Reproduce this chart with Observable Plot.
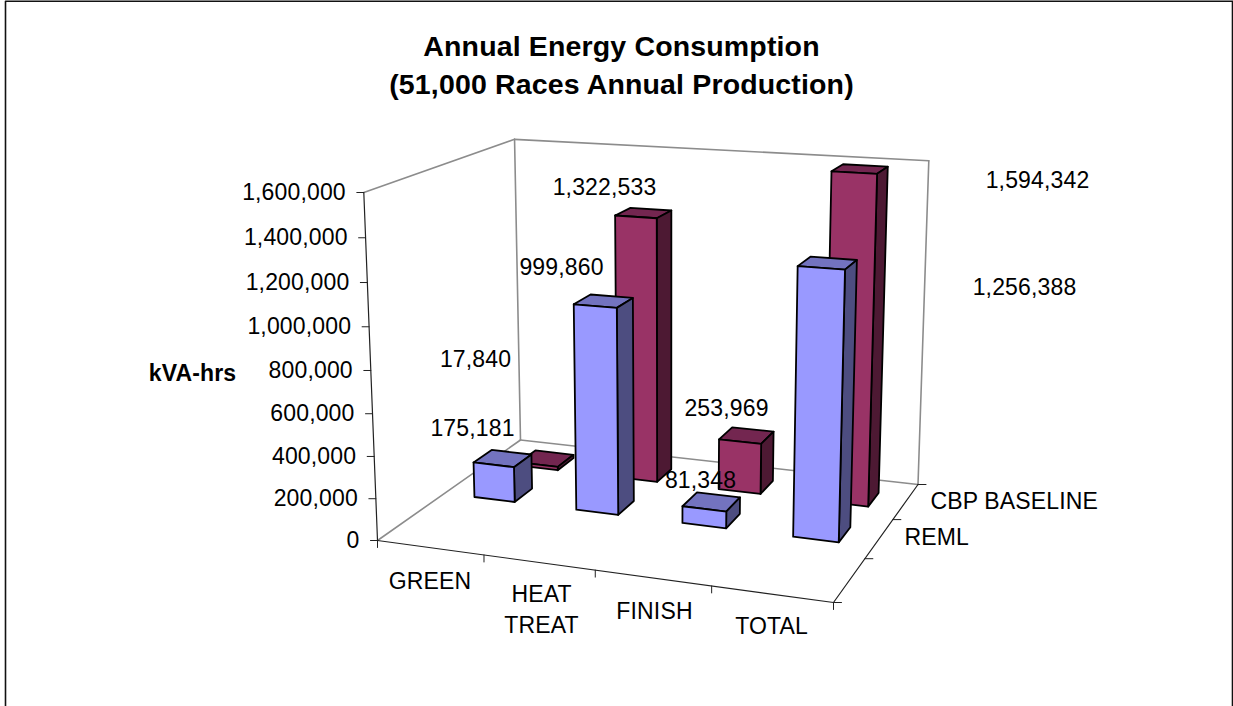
<!DOCTYPE html>
<html>
<head>
<meta charset="utf-8">
<script src="https://cdn.jsdelivr.net/npm/d3@7"></script>
<script src="https://cdn.jsdelivr.net/npm/@observablehq/plot@0.6"></script>
<style>html,body{margin:0;padding:0;background:#fff;overflow:hidden}svg{display:block}</style>
</head>
<body>
<div id="chart"></div>
<script>
// ---- chart data ----
const categories = ["GREEN", "HEAT\nTREAT", "FINISH", "TOTAL"];
const seriesNames = ["REML", "CBP BASELINE"];
const reml = [175181, 999860, 81348, 1256388];
const cbp = [17840, 1322533, 253969, 1594342];
const valueTicks = [0, 200000, 400000, 600000, 800000, 1000000, 1200000, 1400000, 1600000];
const titleLines = ["Annual Energy Consumption", "(51,000 Races Annual Production)"];
const yTitle = "kVA-hrs";

// ---- layout: the 3D box seen on screen ----
const W = 1233, H = 706, vMax = 1600000;
const box = {A:[377,540], B:[833,602], C:[917.5,484], D:[520,439.5], E:[363.3,192], G:[928.3,163.3]};
const fam = "Liberation Sans, Arial, sans-serif";
const barU = 0.1, barV = 0.13, vStart = [0.432, 0.752], uShift = [0, 0.004];
const faces = [
  {front:"#9999FF", side:"#4D4D80", top:"#7373BF"},
  {front:"#993366", side:"#4D1933", top:"#732650"}
];
const valueLabelAt = [
  [[472,428],[561,267],[700,480],[1024,287]],
  [[475,359],[604,187],[726,408],[1037,180]]
];
const categoryLabelAt = [[429.5,579],[541,607],[654,609],[771,624]];
const seriesLabelAt = [[904,537,"start"],[930,501,"start"]];

// ---- projective map of (u along categories, v along depth, h up) to the page ----
function makeProjection({A,B,C,D,E,G}) {
  const dx1=B[0]-C[0], dx2=D[0]-C[0], sx=A[0]-B[0]+C[0]-D[0];
  const dy1=B[1]-C[1], dy2=D[1]-C[1], sy=A[1]-B[1]+C[1]-D[1];
  const det=dx1*dy2-dx2*dy1;
  const g=(sx*dy2-dx2*sy)/det, k=(dx1*sy-sx*dy1)/det;
  const a1=B[0]-A[0]+g*B[0], a2=D[0]-A[0]+k*D[0], a0=A[0];
  const b1=B[1]-A[1]+g*B[1], b2=D[1]-A[1]+k*D[1], b0=A[1];
  const wC=1+g+k, nCx=a1+a2+a0;
  const m=((E[0]-a0)-(G[0]*wC-nCx))/(G[0]-E[0]);
  const a3=E[0]*(m+1)-a0, b3=E[1]*(m+1)-b0;
  return (u,v,h)=>{
    const w=g*u+k*v+m*h+1;
    return [(a1*u+a2*v+a3*h+a0)/w,(b1*u+b2*v+b3*h+b0)/w];
  };
}
const project = makeProjection(box);
const P = (u,v,value)=>project(u,v,value/vMax);

// ---- polygons (paint order: back series first) ----
const polys = [];
let pid = 0;
function addPoly(corners, fill){
  const id = pid++;
  [...corners, corners[0]].forEach(c=>polys.push({id, x:c[0], y:c[1], fill}));
}
[cbp, reml].forEach((values, idx)=>{
  const s = idx===0 ? 1 : 0;
  const v0 = vStart[s], v1 = v0+barV;
  values.forEach((val,i)=>{
    const u0=(i+0.5)/categories.length-barU/2+uShift[s], u1=u0+barU;
    addPoly([P(u0,v0,val),P(u1,v0,val),P(u1,v1,val),P(u0,v1,val)], faces[s].top);
    addPoly([P(u1,v0,0),P(u1,v1,0),P(u1,v1,val),P(u1,v0,val)], faces[s].side);
    addPoly([P(u0,v0,0),P(u1,v0,0),P(u1,v0,val),P(u0,v0,val)], faces[s].front);
  });
});

// ---- box and axis lines ----
const seg = (a,b,group)=>[{x:a[0],y:a[1],group},{x:b[0],y:b[1],group}];
let gid = 0;
const wall = [
  [P(0,0,0),P(0,1,0)],[P(0,1,0),P(1,1,0)],[P(1,1,0),P(1,1,vMax)],
  [P(1,1,vMax),P(0,1,vMax)],[P(0,1,vMax),P(0,1,0)],[P(0,1,vMax),P(0,0,vMax)]
].flatMap(([a,b])=>seg(a,b,gid++));
const axis = [
  [P(0,0,0),P(1,0,0)],[P(1,0,0),P(1,1,0)],[P(0,0,0),P(0,0,vMax)]
].flatMap(([a,b])=>seg(a,b,gid++));
// ticks
const ticks = [];
valueTicks.forEach(t=>{const p=P(0,0,t); ticks.push(...seg(p,[p[0]-7,p[1]],gid++));});
[0,0.25,0.5,0.75,1].forEach(u=>{const p=P(u,0,0); ticks.push(...seg(p,[p[0],p[1]+7],gid++));});
[0,1/3,2/3,1].forEach(v=>{const p=P(1,v,0); ticks.push(...seg(p,[p[0]+8,p[1]],gid++));});

const frame = [{x:5,y:708},{x:5,y:0.8},{x:1232,y:0.8},{x:1232,y:708}];

// ---- texts ----
const tickText = valueTicks.map(t=>{const p=P(0,0,t); return {x:p[0]-18,y:p[1],text:d3.format(",")(t)};});
const valueText = [reml,cbp].flatMap((vals,s)=>vals.map((val,i)=>({x:valueLabelAt[s][i][0],y:valueLabelAt[s][i][1],text:d3.format(",")(val)})));
const catText = categories.map((c,i)=>({x:categoryLabelAt[i][0],y:categoryLabelAt[i][1],text:c}));
const serText = seriesNames.map((c,i)=>({x:seriesLabelAt[i][0],y:seriesLabelAt[i][1],text:c}));
const titleText = titleLines.map((t,i)=>({x:621,y:46+i*38,text:t}));

const plot = Plot.plot({
  width:W, height:H, margin:0,
  style:{background:"#fff",fontFamily:fam,letterSpacing:"0.15px"},
  x:{domain:[0,W],range:[0,W],axis:null},
  y:{domain:[0,H],range:[0,H],axis:null},
  color:{type:"identity"},
  marks:[
    Plot.line(frame,{x:"x",y:"y",stroke:"#111",strokeWidth:1.6}),
    Plot.line(wall,{x:"x",y:"y",z:"group",stroke:"#8c8c8c",strokeWidth:1.6}),
    Plot.line(axis,{x:"x",y:"y",z:"group",stroke:"#222",strokeWidth:1.2}),
    Plot.line(ticks,{x:"x",y:"y",z:"group",stroke:"#222",strokeWidth:1}),
    Plot.line(polys,{x:"x",y:"y",z:"id",fill:"fill",stroke:"#000",strokeWidth:1.8}),
    Plot.text(tickText,{x:"x",y:"y",text:"text",textAnchor:"end",fontSize:23,fill:"#000"}),
    Plot.text(valueText,{x:"x",y:"y",text:"text",fontSize:23,fill:"#000"}),
    Plot.text(catText,{x:"x",y:"y",text:"text",fontSize:23,fill:"#000",lineHeight:1.35}),
    Plot.text(serText,{x:"x",y:"y",text:"text",textAnchor:"start",fontSize:23,fill:"#000"}),
    Plot.text([{x:192,y:373,text:yTitle}],{x:"x",y:"y",text:"text",fontSize:23,fontWeight:"bold",fill:"#000"}),
    Plot.text(titleText,{x:"x",y:"y",text:"text",fontSize:28.5,fontWeight:"bold",fill:"#000"})
  ]
});
document.getElementById("chart").append(plot);
</script>
</body>
</html>
